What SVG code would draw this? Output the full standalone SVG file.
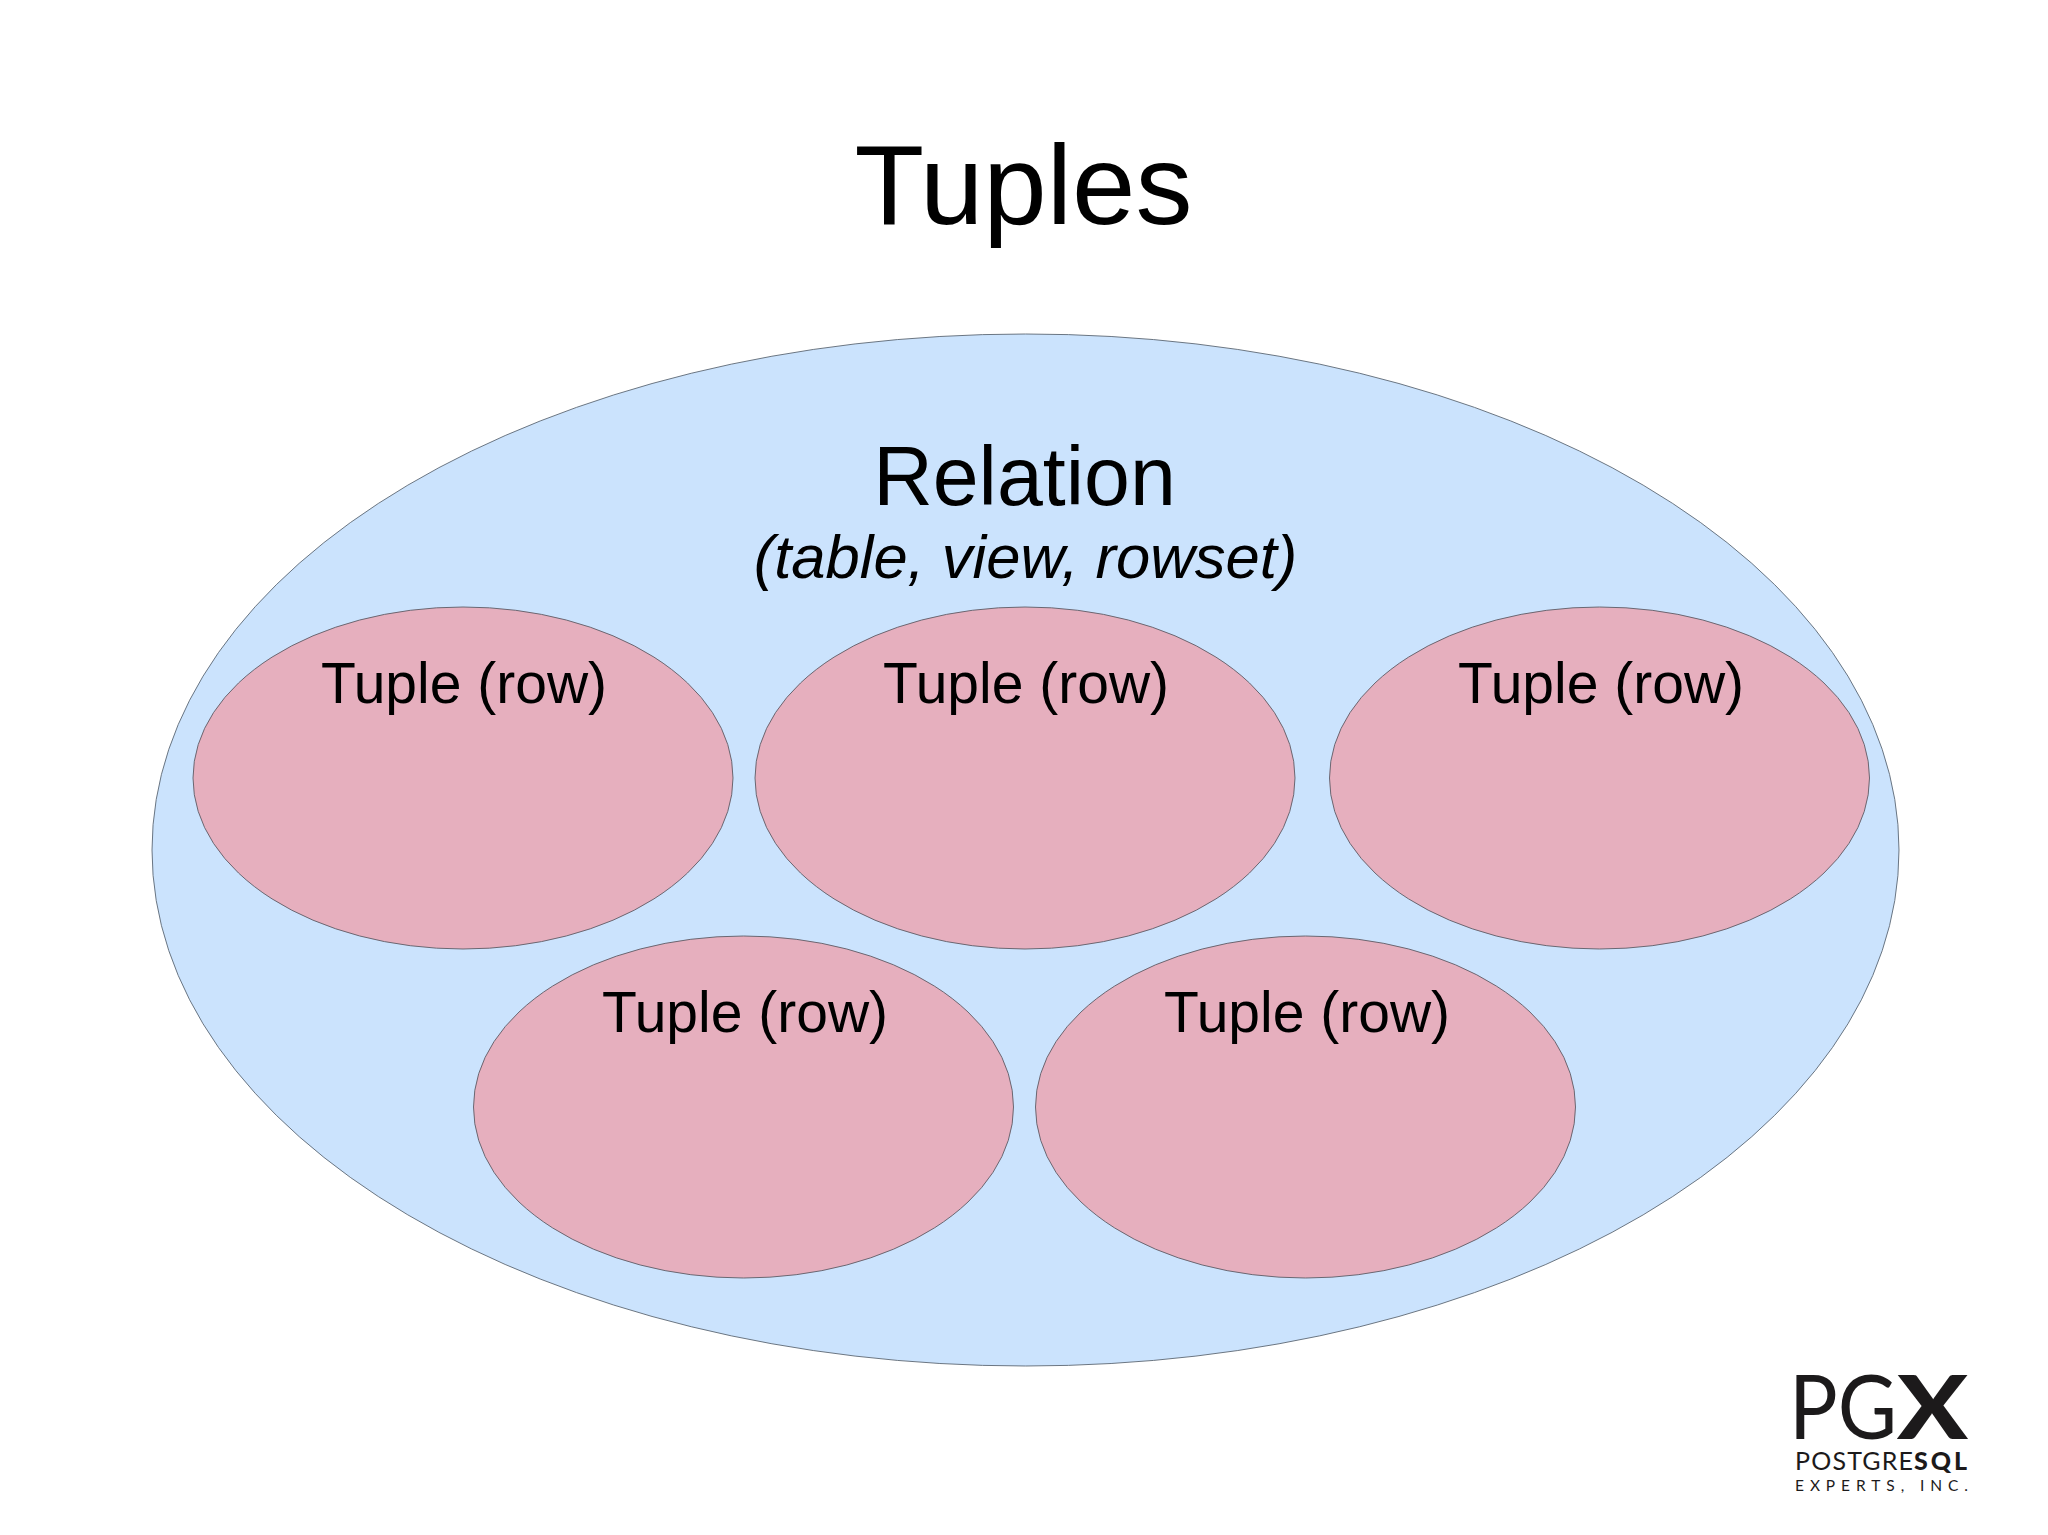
<svg xmlns="http://www.w3.org/2000/svg" width="2048" height="1535" viewBox="0 0 2048 1535">
<style>
text{font-family:"Liberation Sans",Arial,sans-serif;fill:#000;text-anchor:middle}
.tuple ellipse{fill:#e6afbe;stroke:#5c5c66;stroke-width:0.9}
.tuple text{font-size:57px}
.logo text{font-family:Lato,"Liberation Sans",sans-serif;fill:#1c1a1b;text-anchor:start}
</style>
<rect width="2048" height="1535" fill="#fff"/>
<text id="title" x="1023.500" y="224" font-size="114">Tuples</text>
<g id="relation">
<ellipse cx="1025.5" cy="850" rx="873.5" ry="516" fill="#cbe3fd" stroke="#5c6874" stroke-width="0.9"/>
<text x="1024.500" y="505" font-size="82.500">Relation</text>
<text x="1025.500" y="578" font-size="61.500" font-style="italic">(table, view, rowset)</text>
</g>
<g id="tuple1" class="tuple"><ellipse cx="463" cy="778" rx="270" ry="171"/><text x="464" y="702.500">Tuple (row)</text></g>
<g id="tuple2" class="tuple"><ellipse cx="1025" cy="778" rx="270" ry="171"/><text x="1026" y="702.500">Tuple (row)</text></g>
<g id="tuple3" class="tuple"><ellipse cx="1599.500" cy="778" rx="270" ry="171"/><text x="1601" y="702.500">Tuple (row)</text></g>
<g id="tuple4" class="tuple"><ellipse cx="743.500" cy="1107" rx="270" ry="171"/><text x="745" y="1031.500">Tuple (row)</text></g>
<g id="tuple5" class="tuple"><ellipse cx="1305.500" cy="1107" rx="270" ry="171"/><text x="1307" y="1031.500">Tuple (row)</text></g>
<g id="connectors"/>
<g id="logo" class="logo">
<text x="1789" y="1439" font-size="89" font-weight="400" textLength="108" lengthAdjust="spacingAndGlyphs">PG</text>
<text x="1897" y="1439" font-size="88" font-weight="900" textLength="71" lengthAdjust="spacingAndGlyphs">X</text>
<text x="1795" y="1470" font-size="25" font-weight="400" textLength="118">POSTGRE</text>
<text x="1914" y="1470" font-size="25" font-weight="900" textLength="53">SQL</text>
<text x="1795" y="1491" font-size="15.500" font-weight="400" textLength="173">EXPERTS, INC.</text>
</g>
</svg>
